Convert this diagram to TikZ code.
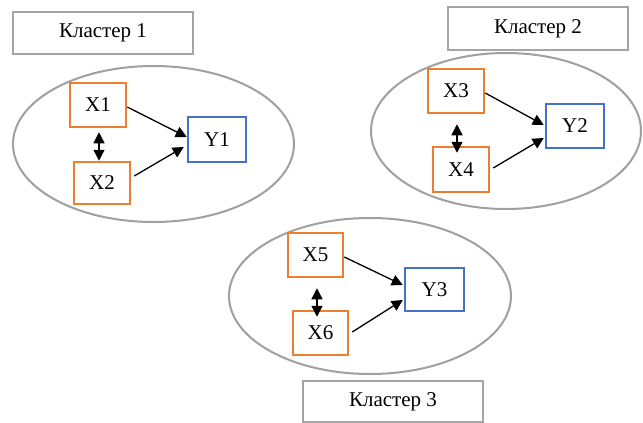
\documentclass[tikz,border=0pt]{standalone}
\usepackage{fontspec}
\setmainfont{Liberation Serif}
\usetikzlibrary{arrows.meta}
\definecolor{orng}{HTML}{ED7D31}
\definecolor{blu}{HTML}{4472C4}
\definecolor{gry}{HTML}{A5A5A5}
\definecolor{elg}{HTML}{A0A0A0}
\tikzset{
  xbox/.style={draw=orng, line width=2.5pt, fill=white, inner sep=0pt, font=\fontsize{21}{24}\selectfont},
  ybox/.style={draw=blu, line width=2.5pt, fill=white, inner sep=0pt, font=\fontsize{21}{24}\selectfont},
  lbox/.style={draw=gry, line width=2.5pt, fill=white, inner sep=0pt, minimum width=180pt, font=\fontsize{21}{24}\selectfont},
  clust/.style={draw=elg, line width=2pt},
  arr/.style={-{Triangle[length=11pt,width=11pt]}, line width=1.3pt, black},
  dbl/.style={{Triangle[length=11pt,width=11pt]}-{Triangle[length=11pt,width=11pt]}, line width=1.3pt, black}
}
\begin{document}
\begin{tikzpicture}[x=1pt,y=-1pt]
\useasboundingbox (0,0) rectangle (643,423);
\fill[white] (0,0) rectangle (643,423);
% ellipses
\draw[clust] (153.5,144) ellipse [x radius=140.5, y radius=78];
\draw[clust] (506,131) ellipse [x radius=135, y radius=78];
\draw[clust] (370,296) ellipse [x radius=141, y radius=78];
% labels
\node[lbox, minimum height=42pt] (L1) at (103,33) {Кластер 1};
\node[lbox, minimum height=43pt] (L2) at (538,28.5) {Кластер 2};
\node[lbox, minimum height=41pt] (L3) at (393,401.5) {Кластер 3};
% cluster 1
\node[xbox, minimum width=56pt, minimum height=44pt] (X1) at (98,105) {X1};
\node[xbox, minimum width=56pt, minimum height=42pt] (X2) at (102,183) {X2};
\node[ybox, minimum width=58pt, minimum height=45pt] (Y1) at (217,139.5) {Y1};
\draw[dbl] ([xshift=1pt,yshift=-4pt]X1.south) -- ([xshift=-3pt,yshift=0pt]X2.north);
\draw[arr] ([yshift=-2pt]X1.east) -- ([yshift=2.5pt]Y1.west);
\draw[arr] ([xshift=3pt,yshift=7pt]X2.east) -- ([xshift=-3pt,yshift=-7.5pt]Y1.west);
% cluster 2
\node[xbox, minimum width=56pt, minimum height=44pt] (X3) at (456,91) {X3};
\node[xbox, minimum width=56pt, minimum height=45pt] (X4) at (461,169.5) {X4};
\node[ybox, minimum width=58pt, minimum height=44pt] (Y2) at (575,126) {Y2};
\draw[dbl] ([xshift=1pt,yshift=-10pt]X3.south) -- ([xshift=-4pt,yshift=-7pt]X4.north);
\draw[arr] ([yshift=-2pt]X3.east) -- ([xshift=-1pt,yshift=1pt]Y2.west);
\draw[arr] ([xshift=3pt,yshift=1.5pt]X4.east) -- ([xshift=-1pt,yshift=-12pt]Y2.west);
% cluster 3
\node[xbox, minimum width=55pt, minimum height=44pt] (X5) at (315.5,255) {X5};
\node[xbox, minimum width=55pt, minimum height=44pt] (X6) at (320.5,333) {X6};
\node[ybox, minimum width=59pt, minimum height=43pt] (Y3) at (434.5,289.5) {Y3};
\draw[dbl] ([xshift=1.5pt,yshift=-10pt]X5.south) -- ([xshift=-3.5pt,yshift=-7pt]X6.north);
\draw[arr] ([yshift=-2pt]X5.east) -- ([xshift=-1pt,yshift=4.5pt]Y3.west);
\draw[arr] ([xshift=3pt,yshift=1pt]X6.east) -- ([xshift=-1pt,yshift=-10.5pt]Y3.west);
\end{tikzpicture}
\end{document}
